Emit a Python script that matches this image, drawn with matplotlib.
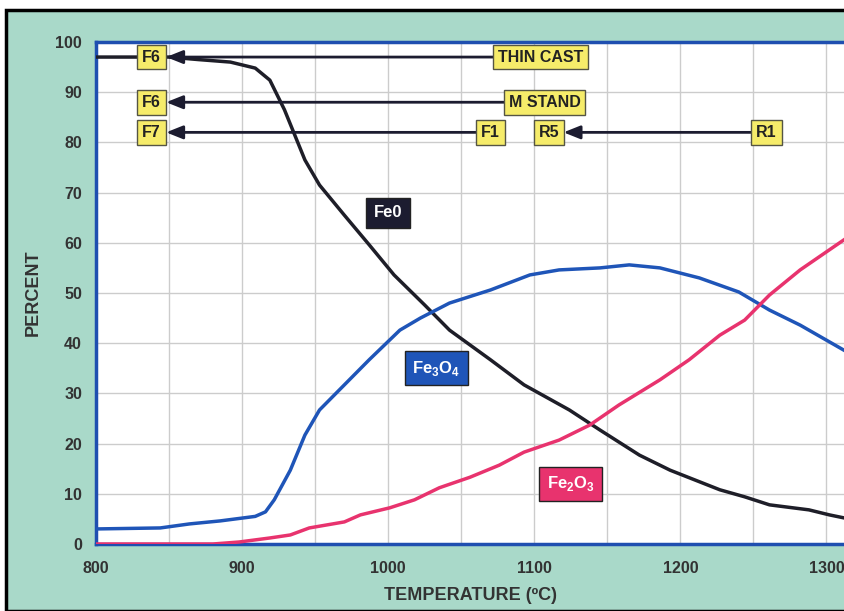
import numpy as np
import matplotlib.pyplot as plt
from matplotlib.patches import Rectangle

plt.rcParams['font.family'] = ['Liberation Sans', 'DejaVu Sans']
plt.rcParams['mathtext.fontset'] = 'custom'
plt.rcParams['mathtext.rm'] = 'Liberation Sans:bold'
plt.rcParams['mathtext.bf'] = 'Liberation Sans:bold'

# Fe0 (black)
fe0_t = [800, 850, 870, 892, 909, 919, 929, 943, 953, 970, 987, 1004, 1025, 1042,
         1070, 1093, 1124, 1145, 1172, 1193, 1227, 1244, 1261, 1288, 1302, 1312]
fe0_p = [97.0, 97.0, 96.5, 96.0, 94.8, 92.4, 86.5, 76.5, 71.5, 65.5, 59.6, 53.6, 47.6, 42.6,
         36.7, 31.7, 26.7, 22.7, 17.7, 14.7, 10.8, 9.4, 7.8, 6.8, 5.8, 5.2]

# Fe3O4 (blue)
fe3o4_t = [800, 844, 864, 885, 909, 916, 922, 933, 943, 953, 970, 987, 1008, 1022,
           1042, 1070, 1097, 1117, 1145, 1165, 1186, 1213, 1240, 1261, 1282, 1312]
fe3o4_p = [3.0, 3.2, 4.0, 4.6, 5.5, 6.4, 8.8, 14.7, 21.7, 26.7, 31.7, 36.7, 42.6, 45.0,
           48.0, 50.6, 53.6, 54.6, 55.0, 55.6, 55.0, 53.0, 50.2, 46.6, 43.6, 38.6]

# Fe2O3 (pink)
fe2o3_t = [800, 880, 898, 919, 933, 946, 970, 981, 1001, 1018, 1035, 1056, 1076, 1093,
           1117, 1138, 1158, 1186, 1206, 1227, 1244, 1261, 1282, 1312]
fe2o3_p = [0.0, 0.0, 0.4, 1.2, 1.8, 3.2, 4.4, 5.8, 7.2, 8.8, 11.2, 13.3, 15.7, 18.3,
           20.7, 23.7, 27.7, 32.7, 36.7, 41.6, 44.6, 49.6, 54.6, 60.6]

# mill stage annotations: (start label, x, end label, x, y)
stages = [
    ("F6", 838, "THIN CAST", 1104, 97),
    ("F6", 838, "M STAND", 1107, 88),
    ("F7", 838, "F1", 1070, 82),
    ("R5", 1110, "R1", 1259, 82),
]

species = [
    ("Fe0", 1000, 66, "#1c1c30"),
    (r"Fe$_\mathregular{3}$O$_\mathregular{4}$", 1033, 35, "#1f55b8"),
    (r"Fe$_\mathregular{2}$O$_\mathregular{3}$", 1125, 12, "#e8336e"),
]

fig = plt.figure(figsize=(8.44, 6.11), dpi=100)
fig.patch.set_facecolor("white")
# teal background panel with black frame
fig.patches.append(Rectangle((6 / 844, 0), 1.0, 1 - 10 / 611, transform=fig.transFigure,
                             facecolor="#a9d9c9", edgecolor="black", linewidth=2.5, zorder=-10))

ax = fig.add_axes([96 / 844, 67 / 611, 1 - 96 / 844, 502 / 611])
ax.set_facecolor("white")

ax.plot(fe0_t, fe0_p, color="#1e1e28", lw=2.5, zorder=3)
ax.plot(fe3o4_t, fe3o4_p, color="#1f55b8", lw=2.5, zorder=3)
ax.plot(fe2o3_t, fe2o3_p, color="#e8336e", lw=2.5, zorder=3)

box_kw = dict(boxstyle="square,pad=0.3", facecolor="#f6ec6a", edgecolor="#555544", lw=1)
for left, x0, right, x1, y in stages:
    ax.annotate("", xy=(x0 + 10, y), xytext=(x1, y),
                arrowprops=dict(arrowstyle="-|>,head_length=1.0,head_width=0.4",
                                color="#1c1c30", lw=2, shrinkA=0, shrinkB=0), zorder=4)
    ax.text(x0, y, left, ha="center", va="center", fontsize=11.5, fontweight="bold",
            color="#222222", bbox=box_kw, zorder=5)
    ax.text(x1, y, right, ha="center", va="center", fontsize=11.5, fontweight="bold",
            color="#222222", bbox=box_kw, zorder=5)

for name, x, y, c in species:
    ax.text(x, y, name, ha="center", va="center", fontsize=12, fontweight="bold",
            color="white", zorder=5,
            bbox=dict(boxstyle="square,pad=0.45", facecolor=c, edgecolor="#222222", lw=1))

ax.set_xlim(800, 1312)
ax.set_ylim(0, 100)
ax.set_xticks([800, 900, 1000, 1100, 1200, 1300])
ax.set_xticks(np.arange(850, 1312, 100), minor=True)
ax.set_yticks(np.arange(0, 101, 10))
ax.grid(True, which="both", color="#cccccc", lw=1, zorder=0)
ax.tick_params(which="both", length=0, labelsize=11.5, colors="#333333")
ax.tick_params(axis="x", pad=12)
ax.tick_params(axis="y", pad=10)
for lab in ax.get_xticklabels() + ax.get_yticklabels():
    lab.set_fontweight("bold")

for side in ["top", "left", "bottom"]:
    ax.spines[side].set_color("#1f4fb0")
    ax.spines[side].set_linewidth(2.5)
ax.spines["right"].set_visible(False)

ax.set_xlabel("TEMPERATURE (ºC)", fontsize=13, fontweight="bold", color="#333333", labelpad=8)
ax.set_ylabel("PERCENT", fontsize=13, fontweight="bold", color="#333333", labelpad=10)

fig.savefig("out.png", dpi=100)
